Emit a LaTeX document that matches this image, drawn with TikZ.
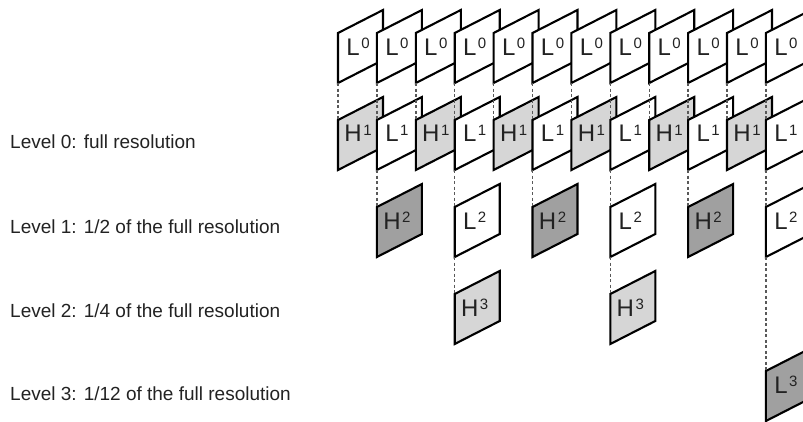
\documentclass[tikz,border=0pt]{standalone}
\usepackage{fontspec}
\setmainfont{Liberation Sans}
\usepackage{tikz}

\definecolor{paleplane}{HTML}{D6D6D6}
\definecolor{darkplane}{HTML}{A0A0A0}
\definecolor{captext}{HTML}{222222}

% letter with a small raised level number
\newcommand{\lvl}[2]{#1\hspace{1.5pt}\raisebox{6.6pt}{\fontsize{15}{15}\selectfont #2}}

% slanted plane: name, x, y of top left corner, fill, label
\newcommand{\wavplane}[5]{%
  \filldraw[planeline, fill=#4] (#2,#3) coordinate (#1-t) -- ++(0,50) coordinate (#1-b)
      -- ++(45,-23) -- ++(0,-50) -- cycle;
  \path (#2,#3) ++(20,13.5) node[planetext] (#1) {#5};
}

\begin{document}
\begin{tikzpicture}[x=1pt, y=-1pt,
    planeline/.style={draw=black, line width=2.1pt},
    planetext/.style={inner sep=0pt, font=\fontsize{24}{24}\selectfont, text=captext},
    leveltext/.style={inner sep=0pt, anchor=base west, font=\fontsize{19}{22}\selectfont, text=captext},
    link/.style={draw=gray!70!black, line width=1.4pt, dash pattern=on 3pt off 2.5pt}]
    \useasboundingbox (0,0) rectangle (803,421);
    \clip (0,0) rectangle (803,421);

    \node[leveltext] (lev0) at (10,148) {Level 0: full resolution};
    \node[leveltext] (lev1) at (10,233) {Level 1: 1/2 of the full resolution};
    \node[leveltext] (lev2) at (10,317) {Level 2: 1/4 of the full resolution};
    \node[leveltext] (lev3) at (10,400) {Level 3: 1/12 of the full resolution};

    % full resolution frames
    \foreach \c in {0,...,11}
      \wavplane{r0c\c}{338+38.9*\c}{33}{white}{\lvl{L}{0}};

    \foreach \c/\k/\f in {0/H/paleplane, 1/L/white, 2/H/paleplane, 3/L/white,
                          4/H/paleplane, 5/L/white, 6/H/paleplane, 7/L/white,
                          8/H/paleplane, 9/L/white, 10/H/paleplane, 11/L/white}
      \wavplane{r1c\c}{338+38.9*\c}{120}{\f}{\lvl{\k}{1}};

    \foreach \c/\k/\f in {1/H/darkplane, 3/L/white, 5/H/darkplane,
                          7/L/white, 9/H/darkplane, 11/L/white}
      \wavplane{r2c\c}{338+38.9*\c}{207}{\f}{\lvl{\k}{2}};

    \foreach \c in {3,7}
      \wavplane{r3c\c}{338+38.9*\c}{294}{paleplane}{\lvl{H}{3}};

    \wavplane{r4c11}{338+38.9*11}{371}{darkplane}{\lvl{L}{3}};

    \foreach \c in {0,...,11}
      \draw[link] (r0c\c-b) -- (r1c\c-t);
    \foreach \c in {1,3,...,11}
      \draw[link] (r1c\c-b) -- (r2c\c-t);
    \foreach \c in {3,7}
      \draw[link] (r2c\c-b) -- (r3c\c-t);
    \draw[link] (r2c11-b) -- (r4c11-t);
\end{tikzpicture}
\end{document}
